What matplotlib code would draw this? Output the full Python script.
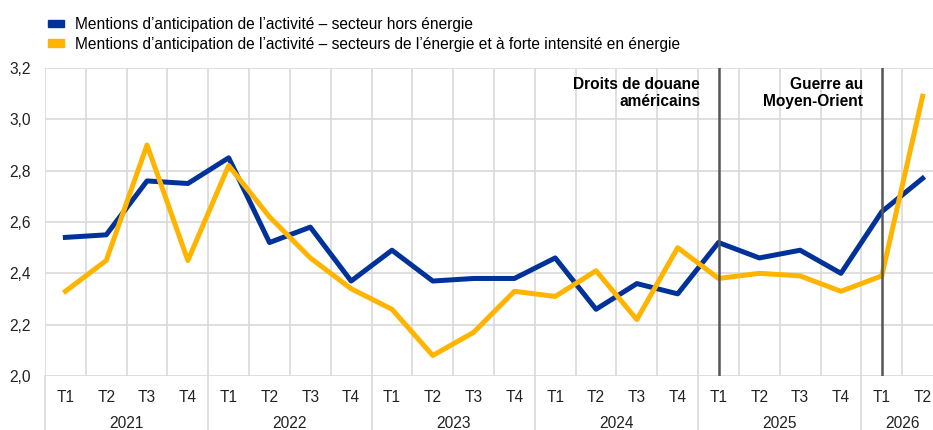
import matplotlib
matplotlib.use("Agg")
import matplotlib.pyplot as plt
import matplotlib.transforms as mtransforms
from matplotlib.patches import Patch

plt.rcParams['font.family'] = ['Liberation Sans', 'DejaVu Sans']

years = ["2021", "2022", "2023", "2024", "2025", "2026"]
quarters = ["T1", "T2", "T3", "T4"] * 5 + ["T1", "T2"]
hors_energie = [2.54, 2.55, 2.76, 2.75, 2.85, 2.52, 2.58, 2.37, 2.49, 2.37, 2.38, 2.38,
                2.46, 2.26, 2.36, 2.32, 2.52, 2.46, 2.49, 2.40, 2.64, 2.77]
energie = [2.33, 2.45, 2.90, 2.45, 2.82, 2.62, 2.46, 2.34, 2.26, 2.08, 2.17, 2.33,
           2.31, 2.41, 2.22, 2.50, 2.38, 2.40, 2.39, 2.33, 2.39, 3.09]
labels = ["Mentions d\u2019anticipation de l\u2019activit\u00e9 \u2013 secteur hors \u00e9nergie",
          "Mentions d\u2019anticipation de l\u2019activit\u00e9 \u2013 secteurs de l\u2019\u00e9nergie et \u00e0 forte intensit\u00e9 en \u00e9nergie"]
events = [16, 20]
event_labels = ["Droits de douane\nam\u00e9ricains", "Guerre au\nMoyen-Orient"]

blue, yellow, grid = "#003299", "#ffb400", "#d9d9d9"
fs = 11.2

fig = plt.figure(figsize=(9.33, 4.3), dpi=100)
ax = fig.add_axes([45 / 933, 1 - 376 / 430, 898 / 933, 308 / 430])
x = list(range(len(quarters)))

ax.set_ylim(2.0, 3.2)
ax.set_xlim(-0.5, 21.5)
ax.set_yticks([2.0, 2.2, 2.4, 2.6, 2.8, 3.0, 3.2])
ax.set_yticklabels([f"{v:.1f}".replace(".", ",") for v in ax.get_yticks()])
ax.set_xticks([i - 0.5 for i in x], minor=True)
ax.set_xticks(x)
ax.set_xticklabels(quarters)
ax.grid(True, which="major", axis="y", color=grid, lw=1.2)
ax.grid(True, which="minor", axis="x", color=grid, lw=1.2)
ax.tick_params(axis="both", which="both", length=0, labelsize=fs, colors="#222222")
ax.tick_params(axis="x", pad=10)
ax.tick_params(axis="y", pad=10)
for s in ax.spines.values():
    s.set_visible(False)
ax.set_axisbelow(True)

ax.plot(x, hors_energie, color=blue, lw=3.6, zorder=3)
ax.plot(x, energie, color=yellow, lw=3.6, zorder=4)

for ev, txt in zip(events, event_labels):
    ax.axvline(ev, color="#555555", lw=1.8, zorder=5)
    ax.text(ev - 0.45, 3.165, txt, ha="right", va="top", fontsize=fs,
            fontweight="bold", linespacing=1.2)

# year separators and labels below axis
trans = mtransforms.blended_transform_factory(ax.transData, ax.transAxes)
for b in [-0.5, 3.5, 7.5, 11.5, 15.5, 19.5]:
    ax.plot([b, b], [0, -0.18], color=grid, lw=1.2, transform=trans, clip_on=False)
for i, yr in enumerate(years):
    start = i * 4
    end = min(start + 3, len(quarters) - 1)
    ax.text((start + end) / 2, -0.153, yr, transform=trans, ha="center", va="center",
            fontsize=fs, color="#222222")

handles = [Patch(color=blue), Patch(color=yellow)]
fig.legend(handles, labels, loc="upper left", bbox_to_anchor=(0.04, 0.986), frameon=False,
           fontsize=fs, handlelength=1.03, handleheight=0.33, handletextpad=0.7,
           labelspacing=0.3, borderaxespad=0.3)

fig.savefig("out.png", dpi=100)
